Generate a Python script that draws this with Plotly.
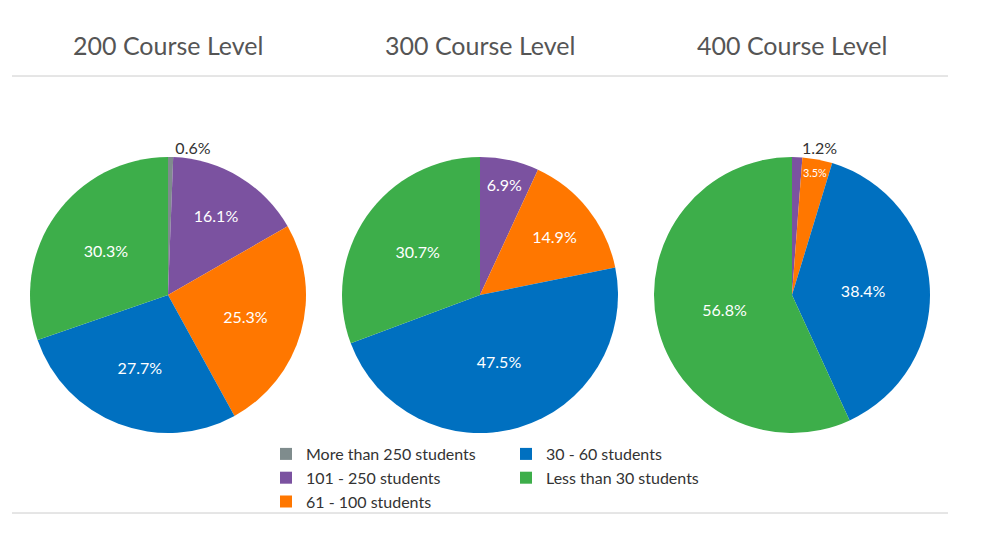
import plotly.graph_objects as go

categories = ["More than 250 students", "101 - 250 students", "61 - 100 students",
              "30 - 60 students", "Less than 30 students"]
colors = ["#7f8c8d", "#7b52a0", "#ff7700", "#0070c0", "#3dae4a"]

levels = ["200 Course Level", "300 Course Level", "400 Course Level"]
values_200 = [0.6, 16.1, 25.3, 27.7, 30.3]
values_300 = [0.0, 6.9, 14.9, 47.5, 30.7]
values_400 = [0.0, 1.2, 3.5, 38.4, 56.8]

textpos_200 = ["outside", "inside", "inside", "inside", "inside"]
textpos_300 = ["inside", "inside", "inside", "inside", "inside"]
textpos_400 = ["inside", "outside", "inside", "inside", "inside"]

W, H = 1000, 550
FONT = "Lato"

def px_x(x):
    return x / W

def px_y(y):
    return 1 - y / H

centers_x = [168, 480, 792]
center_y = 295
radius = 138

fig = go.Figure()

all_values = [values_200, values_300, values_400]
all_pos = [textpos_200, textpos_300, textpos_400]
for i, (vals, pos) in enumerate(zip(all_values, all_pos)):
    cx = centers_x[i]
    labels = [c for c, v in zip(categories, vals) if v > 0]
    cols = [col for col, v in zip(colors, vals) if v > 0]
    p = [t for t, v in zip(pos, vals) if v > 0]
    v = [x for x in vals if x > 0]
    fig.add_trace(go.Pie(
        labels=labels, values=v, sort=False, direction="clockwise", rotation=0,
        marker=dict(colors=cols, line=dict(width=0)),
        texttemplate="%{value:.1f}%", textposition=p,
        insidetextorientation="horizontal",
        insidetextfont=dict(color="white", size=16, family=FONT),
        outsidetextfont=dict(color="#333333", size=16, family=FONT),
        showlegend=False, hoverinfo="label+value",
        domain=dict(x=[px_x(cx - radius), px_x(cx + radius)],
                    y=[px_y(center_y + radius), px_y(center_y - radius)]),
    ))

# legend entries
legend_of = ["legend", "legend", "legend", "legend2", "legend2"]
for k in range(len(categories)):
    fig.add_trace(go.Bar(
        x=[None], y=[None], name=categories[k],
        marker=dict(color=colors[k], line=dict(width=0)),
        legend=legend_of[k], showlegend=True, hoverinfo="skip",
    ))

for i, lvl in enumerate(levels):
    fig.add_annotation(text=lvl, x=px_x(centers_x[i]), y=px_y(45), xref="paper", yref="paper",
                       showarrow=False, xanchor="center", yanchor="middle",
                       font=dict(size=25, color="#555555", family=FONT))

for yy in [76, 513]:
    fig.add_shape(type="line", xref="paper", yref="paper",
                  x0=px_x(12), x1=px_x(948), y0=px_y(yy), y1=px_y(yy),
                  line=dict(color="#cccccc", width=1))

legend_style = dict(font=dict(size=16, color="#333333", family=FONT),
                    orientation="v", xanchor="left", yanchor="top",
                    bgcolor="rgba(0,0,0,0)", tracegroupgap=0, itemclick=False)

fig.update_layout(
    width=W, height=H,
    margin=dict(l=0, r=0, t=0, b=0),
    paper_bgcolor="white", plot_bgcolor="white",
    xaxis=dict(visible=False), yaxis=dict(visible=False),
    legend=dict(x=px_x(266), y=px_y(437), **legend_style),
    legend2=dict(x=px_x(506), y=px_y(437), **legend_style),
    font=dict(family=FONT),
)

fig.write_html("out.html", config={"displayModeBar": False},
               post_script="document.body.style.margin='0px';")
